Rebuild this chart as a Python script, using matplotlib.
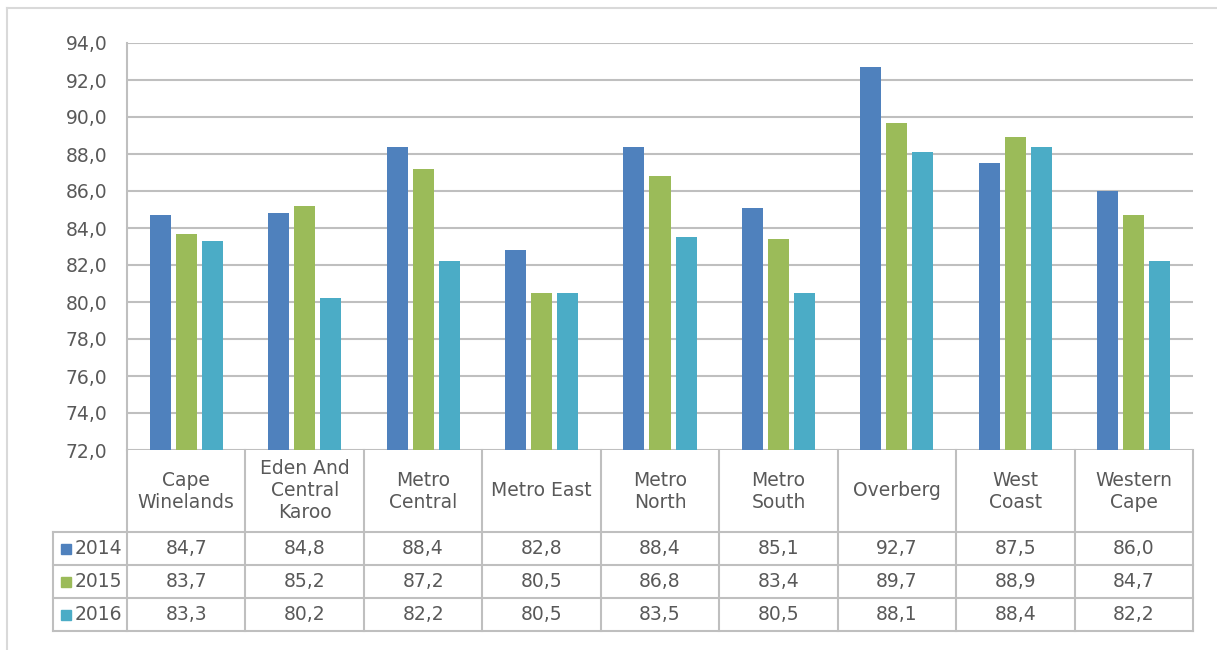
import numpy as np
import matplotlib
matplotlib.use("Agg")
import matplotlib.pyplot as plt
from matplotlib.transforms import blended_transform_factory

categories = ["Cape\nWinelands", "Eden And\nCentral\nKaroo", "Metro\nCentral", "Metro East",
              "Metro\nNorth", "Metro\nSouth", "Overberg", "West\nCoast", "Western\nCape"]
years = ["2014", "2015", "2016"]
vals_2014 = [84.7, 84.8, 88.4, 82.8, 88.4, 85.1, 92.7, 87.5, 86.0]
vals_2015 = [83.7, 85.2, 87.2, 80.5, 86.8, 83.4, 89.7, 88.9, 84.7]
vals_2016 = [83.3, 80.2, 82.2, 80.5, 83.5, 80.5, 88.1, 88.4, 82.2]
colors = ["#4F81BD", "#9BBB59", "#4BACC6"]

W, H = 1217, 650
TXT = "#595959"
GRID = "#BFBFBF"
plt.rcParams["font.family"] = ["DejaVu Sans"]
FS = 13.5

fig = plt.figure(figsize=(W / 100, H / 100), dpi=100)

def fy(py):
    return 1 - py / H

def fx(px):
    return px / W

# plot area in pixels
left, right, top, bottom = 127, 1193, 43, 450
ax = fig.add_axes([fx(left), fy(bottom), fx(right - left), (bottom - top) / H])

x = np.arange(len(categories))
series = [vals_2014, vals_2015, vals_2016]
bw = 0.178
offsets = [-0.22, 0.0, 0.22]
for vals, off, c in zip(series, offsets, colors):
    ax.bar(x + off, vals, width=bw, color=c, bottom=0, zorder=3)

ax.set_xlim(-0.5, len(categories) - 0.5)
ax.set_ylim(72, 94)
ax.set_yticks(np.arange(72, 94.1, 2))
ax.set_yticklabels([f"{v:.1f}".replace(".", ",") for v in np.arange(72, 94.1, 2)],
                   fontsize=FS, color=TXT)
ax.tick_params(axis="y", length=0, pad=14)
ax.set_xticks([])
ax.grid(axis="y", color=GRID, linewidth=1.5, zorder=0)
for s in ["top", "right", "bottom"]:
    ax.spines[s].set_visible(False)
ax.spines["left"].set_color(GRID)
ax.spines["left"].set_linewidth(1.5)

# data table under the plot
tr = blended_transform_factory(ax.transData, fig.transFigure)
row_lines = [532, 565, 598, 631]
lw = 1.5
for k in range(len(categories) + 1):
    ax.plot([k - 0.5, k - 0.5], [fy(bottom), fy(631)], color=GRID, lw=lw,
            transform=tr, clip_on=False)
for py in row_lines:
    fig.add_artist(plt.Line2D([fx(53), fx(right)], [fy(py), fy(py)], color=GRID, lw=lw))
fig.add_artist(plt.Line2D([fx(53), fx(53)], [fy(532), fy(631)], color=GRID, lw=lw))

for i, cat in enumerate(categories):
    ax.text(i, fy(491), cat, transform=tr, ha="center", va="center",
            fontsize=FS, color=TXT, linespacing=1.2)

row_centers = [548.5, 581.5, 614.5]
for vals, yr, c, py in zip(series, years, colors, row_centers):
    for i, v in enumerate(vals):
        ax.text(i, fy(py), f"{v:.1f}".replace(".", ","), transform=tr,
                ha="center", va="center", fontsize=FS, color=TXT)
    fig.add_artist(plt.Rectangle((fx(61), fy(py + 5)), fx(10), 10 / H, color=c))
    fig.text(fx(75), fy(py), yr, ha="left", va="center", fontsize=FS, color=TXT)

# outer chart border
fig.add_artist(plt.Line2D([fx(7), fx(7)], [fy(8), 0], color="#D9D9D9", lw=1.5))
fig.add_artist(plt.Line2D([fx(7), 1], [fy(8), fy(8)], color="#D9D9D9", lw=1.5))

fig.savefig("out.png", dpi=100)
